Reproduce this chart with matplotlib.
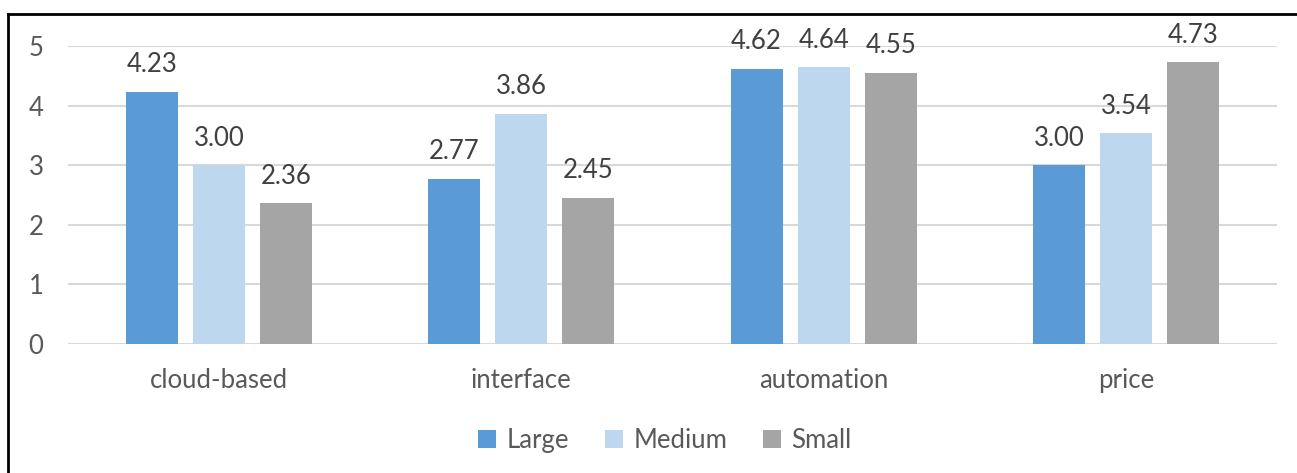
import matplotlib.pyplot as plt
import numpy as np
from matplotlib.lines import Line2D

# Data
categories = ["cloud-based", "interface", "automation", "price"]
large = [4.23, 2.77, 4.62, 3.00]
medium = [3.00, 3.86, 4.64, 3.54]
small = [2.36, 2.45, 4.55, 4.73]
series_names = ["Large", "Medium", "Small"]
colors = ["#5B9BD5", "#BDD7EE", "#A5A5A5"]

plt.rcParams["font.family"] = ["Lato", "DejaVu Sans"]
text_color = "#595959"
fs = 18.5

fig = plt.figure(figsize=(12.97, 4.73), dpi=100)
ax = fig.add_axes([68 / 1297, 1 - 344 / 473, 1209 / 1297, 298 / 473])

x = np.arange(len(categories))
width = 0.172
step = 0.222
for i, (vals, name, c) in enumerate(zip([large, medium, small], series_names, colors)):
    pos = x + (i - 1) * step
    bars = ax.bar(pos, vals, width, color=c, label=name, zorder=2)
    for b, v in zip(bars, vals):
        ax.annotate(f"{v:.2f}", (b.get_x() + b.get_width() / 2, v),
                    xytext=(0, 27), textcoords="offset pixels",
                    ha="center", va="center", fontsize=fs, color="#404040")

ax.set_xlim(-0.5, len(categories) - 0.5)
ax.set_ylim(0, 5)
ax.set_yticks(range(6))
ax.set_xticks(x)
ax.set_xticklabels(categories)
ax.tick_params(axis="both", length=0, labelsize=fs, colors=text_color)
ax.tick_params(axis="x", pad=17)
ax.tick_params(axis="y", pad=0)
for lbl in ax.get_yticklabels():
    lbl.set_horizontalalignment("center")
    lbl.set_x(-32 / 1209)
ax.grid(axis="y", color="#D9D9D9", linewidth=1.5, zorder=0)
for s in ax.spines.values():
    s.set_visible(False)

ax.legend(loc="center", bbox_to_anchor=(665 / 1297, 1 - 440 / 473), bbox_transform=fig.transFigure,
          ncol=3, frameon=False, fontsize=fs, handlelength=0.7, handleheight=0.7,
          handletextpad=0.4, columnspacing=1.4, labelcolor=text_color)

# frame edges
fig.add_artist(Line2D([8 / 1297, 1], [1 - 14 / 473, 1 - 14 / 473], color="black", lw=2, transform=fig.transFigure))
fig.add_artist(Line2D([8 / 1297, 8 / 1297], [0, 1 - 14 / 473], color="black", lw=2, transform=fig.transFigure))

fig.savefig("out.png", dpi=100)
